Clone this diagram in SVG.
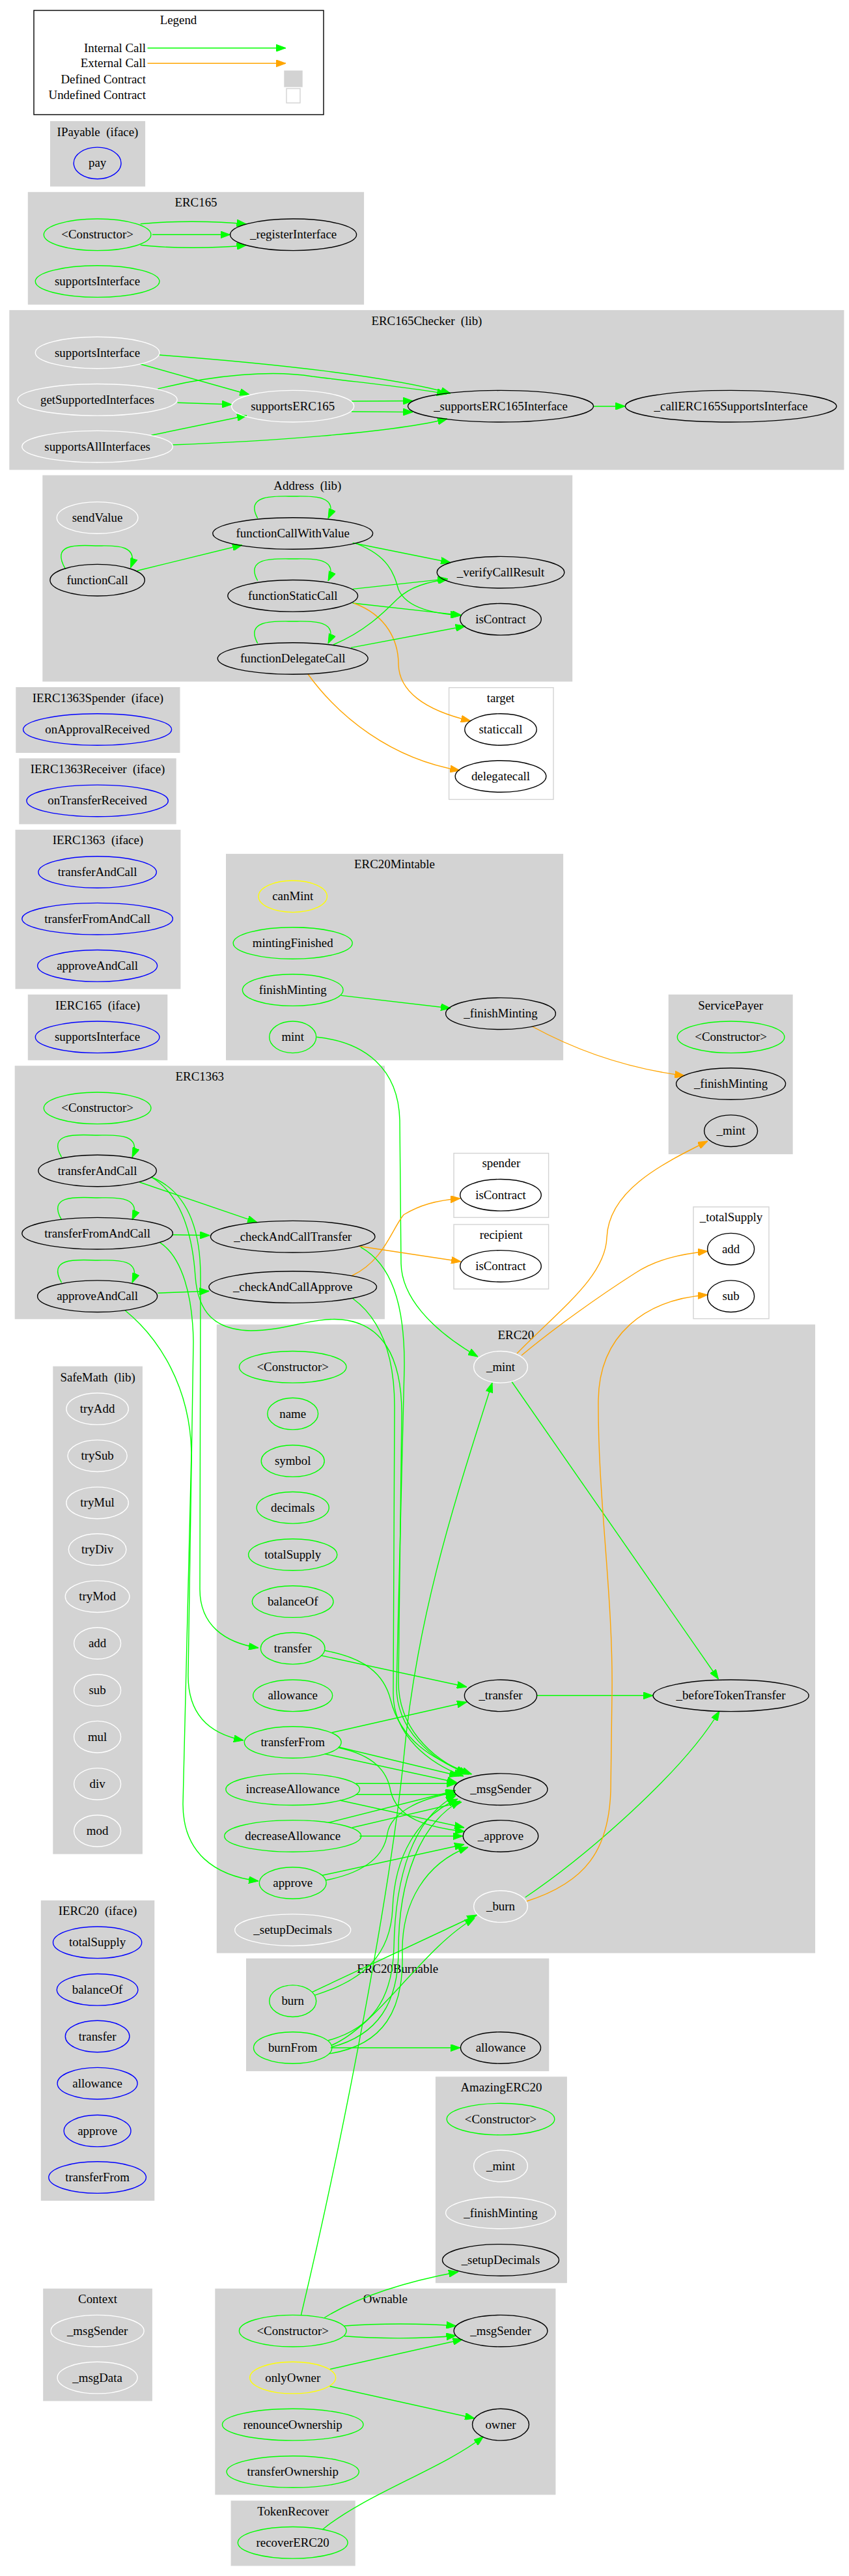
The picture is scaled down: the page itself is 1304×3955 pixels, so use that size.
<svg xmlns="http://www.w3.org/2000/svg" width="1304" height="3955" viewBox="0 0 1304 3955">
<style>
.c{fill:#d3d3d3;stroke:#d3d3d3;stroke-width:1.4}
.u{fill:#fff;stroke:#d3d3d3;stroke-width:1.4}
text{font-family:"Liberation Serif","Times New Roman",serif;font-size:18.9px;fill:#000;text-anchor:middle}
ellipse{fill:none;stroke-width:1.4}
.g{stroke:#00ff00}.k{stroke:#000}.w{stroke:#fff}.b{stroke:#0000ff}.y{stroke:#ffff00}
.eg{fill:none;stroke:#00ff00;stroke-width:1.4;marker-end:url(#ag)}
.eo{fill:none;stroke:#ffa500;stroke-width:1.4;marker-end:url(#ao)}
</style>
<defs>
<marker id="ag" markerUnits="userSpaceOnUse" markerWidth="15" markerHeight="11" viewBox="0 0 15 11" refX="15" refY="5.5" orient="auto"><path d="M0,0 L15,5.5 L0,11 z" fill="#00ff00" stroke="#00ff00"/></marker>
<marker id="ao" markerUnits="userSpaceOnUse" markerWidth="15" markerHeight="11" viewBox="0 0 15 11" refX="15" refY="5.5" orient="auto"><path d="M0,0 L15,5.5 L0,11 z" fill="#ffa500" stroke="#ffa500"/></marker>
</defs>
<rect width="1304" height="3955" fill="#fff"/>

<g id="legend">
<rect x="52" y="16" width="445" height="160" fill="#fff" stroke="#000" stroke-width="1.4"/>
<text x="274" y="37">Legend</text>
<text x="224" y="80" style="text-anchor:end">Internal Call</text>
<text x="224" y="103" style="text-anchor:end">External Call</text>
<text x="224" y="128" style="text-anchor:end">Defined Contract</text>
<text x="224" y="152" style="text-anchor:end">Undefined Contract</text>
<path class="eg" d="M226.5,73.7 L439,73.7"/>
<path class="eo" d="M226.5,97.3 L439,97.3"/>
<rect x="437" y="109" width="27" height="24" class="c"/>
<rect x="440" y="136" width="21" height="22" class="u"/>
</g>

<g id="clusters">
<rect class="c" x="77.7" y="186.6" width="144.7" height="99.1"/><text x="150" y="208.5">IPayable&#160; (iface)</text>
<rect class="c" x="43.5" y="295.5" width="514.9" height="171.5"/><text x="301" y="317">ERC165</text>
<rect class="c" x="15" y="476.8" width="1280.7" height="243.9"/><text x="655.4" y="498.5">ERC165Checker&#160; (lib)</text>
<rect class="c" x="66" y="730.3" width="812.5" height="315.5"/><text x="472.3" y="752">Address&#160; (lib)</text>
<rect class="u" x="689.6" y="1055.7" width="160.4" height="171.7"/><text x="769" y="1077.5">target</text>
<rect class="c" x="25" y="1055.7" width="250.8" height="99.5"/><text x="150.4" y="1077.5">IERC1363Spender&#160; (iface)</text>
<rect class="c" x="30" y="1165" width="240" height="99.7"/><text x="150" y="1186.5">IERC1363Receiver&#160; (iface)</text>
<rect class="c" x="24.2" y="1274.6" width="252.5" height="243.1"/><text x="150.4" y="1296">IERC1363&#160; (iface)</text>
<rect class="c" x="347.7" y="1311.6" width="516.7" height="315.5"/><text x="606" y="1333">ERC20Mintable</text>
<rect class="c" x="43.5" y="1527.6" width="213.1" height="99.5"/><text x="150" y="1549.5">IERC165&#160; (iface)</text>
<rect class="c" x="1027.4" y="1527.6" width="189.6" height="243.8"/><text x="1122.2" y="1549.5">ServicePayer</text>
<rect class="c" x="23.4" y="1637" width="566.8" height="387.6"/><text x="306.8" y="1658.5">ERC1363</text>
<rect class="u" x="697" y="1770.6" width="145.6" height="98.6"/><text x="769.8" y="1792">spender</text>
<rect class="u" x="697" y="1880" width="145.6" height="99"/><text x="769.8" y="1902">recipient</text>
<rect class="u" x="1065" y="1853" width="116" height="171.6"/><text x="1123" y="1875">_totalSupply</text>
<rect class="c" x="333.5" y="2034.2" width="917.9" height="963.8"/><text x="792.4" y="2056">ERC20</text>
<rect class="c" x="82" y="2098.4" width="136.2" height="747.5"/><text x="150.1" y="2120.5">SafeMath&#160; (lib)</text>
<rect class="c" x="63.5" y="2918.4" width="173.1" height="459.7"/><text x="150" y="2940">IERC20&#160; (iface)</text>
<rect class="c" x="378.7" y="3007.5" width="463.9" height="171.7"/><text x="610.6" y="3029">ERC20Burnable</text>
<rect class="c" x="669.6" y="3189.1" width="200.6" height="315.4"/><text x="769.9" y="3210.5">AmazingERC20</text>
<rect class="c" x="66.9" y="3514.4" width="166.3" height="171.3"/><text x="150" y="3536">Context</text>
<rect class="c" x="331" y="3514.4" width="521.7" height="315.2"/><text x="591.8" y="3536">Ownable</text>
<rect class="c" x="355.3" y="3840" width="189.7" height="98.8"/><text x="450.1" y="3861.5">TokenRecover</text>
</g>

<g id="connectors">
<!-- ERC165 -->
<path class="eg" d="M215.7,343.8 C260,339 330,339 378.5,344"/>
<path class="eg" d="M234,360.3 L353.6,360.3"/>
<path class="eg" d="M215.7,376.3 C260,381.5 330,381.5 378.5,376.5"/>
<!-- ERC165Checker -->
<path class="eg" d="M245,545 C420,558 600,578 692,604"/>
<path class="eg" d="M215.7,559 L383,606"/>
<path class="eg" d="M242.4,597 C330,575 420,568 480,578 C560,588 640,596 686,605"/>
<path class="eg" d="M272.5,618.3 L356,621"/>
<path class="eg" d="M540,616 L634,615.5"/>
<path class="eg" d="M540,632 L634,632.6"/>
<path class="eg" d="M232.4,668.3 L379,638"/>
<path class="eg" d="M264,683 C400,678 600,665 687,643"/>
<path class="eg" d="M911.5,623.7 L960.4,623.7"/>
<!-- Address -->
<path class="eg" d="M100.6,873.7 C75,830 128,838 150,838 C172,838 215,834 200.6,871.7"/>
<path class="eg" d="M395.7,795.7 C375,758 425,762 450,762 C475,762 522,758 504,796"/>
<path class="eg" d="M395.7,891.5 C375,854 425,858 450,858 C475,858 522,854 504,892"/>
<path class="eg" d="M395.7,987.7 C375,950 425,954 450,954 C475,954 522,950 504,988"/>
<path class="eg" d="M210.7,876.2 L372,836.8"/>
<path class="eg" d="M541.7,833.5 L692,863.8"/>
<path class="eg" d="M547.5,834.7 C600,855 606,885 612,905 C625,935 670,942 707,945"/>
<path class="eg" d="M541.7,904.4 L687,888.6"/>
<path class="eg" d="M541.7,926 L709,944.6"/>
<path class="eo" d="M543.3,926 C595,945 612,985 612,1020 C613,1060 650,1090 723,1107"/>
<path class="eg" d="M511.6,990 C560,970 590,940 610,920 C630,900 660,893 688,889"/>
<path class="eg" d="M539,994.4 L714.7,961.2"/>
<path class="eo" d="M473,1035 C520,1100 600,1165 706.3,1183"/>
<!-- ERC20Mintable / ServicePayer -->
<path class="eg" d="M524,1528.4 L692,1548"/>
<path class="eo" d="M817.5,1576 C880,1610 960,1640 1051.5,1651.6"/>
<path class="eg" d="M486.5,1592.3 C560,1600 612,1640 614,1720 L616,1940 C617,1990 660,2040 734,2083"/>
<!-- ERC1363 -->
<path class="eg" d="M94.6,1776.7 C70,1735 128,1743 150,1743 C172,1743 220,1738 203,1776.7"/>
<path class="eg" d="M94.6,1872.9 C70,1831 128,1839 150,1839 C172,1839 220,1834 203,1872.9"/>
<path class="eg" d="M94.6,1969.4 C70,1927 128,1935 150,1935 C172,1935 220,1930 203,1969.4"/>
<path class="eg" d="M214.3,1815 L395,1876.7"/>
<path class="eg" d="M264.3,1895.7 L322.3,1896.7"/>
<path class="eg" d="M242.4,1985.2 L321.3,1982.3"/>
<path class="eo" d="M551,1913.3 L708,1937"/>
<path class="eo" d="M540,1959 C590,1935 600,1890 620,1865 C645,1850 670,1843 707,1840"/>
<path class="eg" d="M232,1807 C290,1830 308,1890 308,1960 L307,2440 C307,2495 345,2522 397,2530"/>
<path class="eg" d="M232,1807 C280,1835 296,1900 300,1960 C304,2015 330,2042 385,2043 C440,2043 480,2022 525,2026 C585,2032 617,2080 617,2170 L612,2580 C611,2650 660,2700 720,2724"/>
<path class="eg" d="M245.5,1907.7 C280,1930 296,1990 297,2060 L289,2570 C288,2630 320,2662 374,2672"/>
<path class="eg" d="M192,2011.7 C245,2055 292,2130 294,2230 L281,2770 C281,2845 330,2880 397,2888"/>
<path class="eg" d="M554,1914.8 C600,1940 622,2000 621,2100 L609,2590 C609,2655 662,2702 716,2722"/>
<path class="eg" d="M541.7,1993.5 C585,2025 606,2080 606,2160 L604,2600 C604,2665 660,2708 712,2727"/>
<!-- ERC20 -->
<path class="eo" d="M794,2078 C860,2010 930,1960 932,1900 C935,1830 1010,1790 1087,1752"/>
<path class="eo" d="M801,2081 C850,2040 920,1990 975,1955 C1010,1932 1050,1925 1087,1921"/>
<path class="eg" d="M785.8,2121 L1103.5,2578"/>
<path class="eg" d="M493,2541.7 L716.9,2590"/>
<path class="eg" d="M498,2534 C560,2545 590,2570 600,2610 C615,2670 660,2700 724.5,2724"/>
<path class="eg" d="M510.2,2660 L716.9,2613.3"/>
<path class="eg" d="M519.8,2682.3 L705.4,2726.7"/>
<path class="eg" d="M498.8,2692.7 L701.6,2736.7"/>
<path class="eg" d="M519.8,2683.3 C575,2695 595,2720 600,2750 C610,2790 650,2805 714,2812"/>
<path class="eg" d="M546.6,2738.3 L701,2738.3"/>
<path class="eg" d="M546.6,2755.3 L701,2755.3"/>
<path class="eg" d="M521.7,2764 L713,2806"/>
<path class="eg" d="M504.5,2798.3 L700,2749"/>
<path class="eg" d="M540.8,2806 L709,2766.7"/>
<path class="eg" d="M552.3,2819 L711,2819"/>
<path class="eg" d="M495,2879.3 L713,2831.7"/>
<path class="eg" d="M500.7,2886.7 C560,2875 590,2850 595,2815 C600,2785 640,2762 699,2752"/>
<path class="eg" d="M824.6,2603.3 L1003,2603.3"/>
<path class="eg" d="M806.8,2913 C900,2850 1050,2720 1105,2627"/>
<path class="eo" d="M809,2919 C900,2890 935,2840 938,2750 L940,2600 C942,2450 918,2300 919,2150 C920,2050 990,1995 1087,1988"/>
<!-- ERC20Burnable -->
<path class="eg" d="M479.8,3058.3 L732.3,2940"/>
<path class="eg" d="M483.3,3063.3 C560,3040 600,3000 603,2930 C606,2850 640,2790 703,2762"/>
<path class="eg" d="M507.8,3144 L707,3144"/>
<path class="eg" d="M509.6,3140 C580,3110 650,2990 729,2945"/>
<path class="eg" d="M504.3,3132.7 C570,3115 603,3070 605,2990 C607,2880 635,2790 700,2757"/>
<path class="eg" d="M509,3143 C580,3125 612,3075 612,2995 C612,2885 645,2800 707,2765"/>
<path class="eg" d="M506,3153 C590,3140 620,3085 618,3000 C616,2920 655,2860 719,2836"/>
<!-- Ownable / TokenRecover -->
<path class="eg" d="M462.3,3555 C530,3270 600,2900 620,2700 C640,2480 700,2300 756,2123"/>
<path class="eg" d="M498.2,3558.5 C560,3520 640,3500 704,3488"/>
<path class="eg" d="M529,3571 C580,3567 650,3567 700.5,3571"/>
<path class="eg" d="M529,3586.8 C580,3591 650,3591 700.5,3586"/>
<path class="eg" d="M506.5,3637.6 L710.5,3591.7"/>
<path class="eg" d="M506.5,3663.7 L729,3713"/>
<path class="eg" d="M495,3884 C560,3830 680,3790 742.5,3741"/>
</g>

<g id="IPayable"><g id="IPayable.pay"><ellipse class="b" cx="149.6" cy="250.4" rx="36.4" ry="24.3"/><text x="149.6" y="256.4">pay</text></g></g>

<g id="ERC165">
<g id="ERC165.ctor"><ellipse class="g" cx="149.6" cy="360.3" rx="82.3" ry="24.3"/><text x="149.6" y="366.3">&lt;Constructor&gt;</text></g>
<g id="ERC165._registerInterface"><ellipse class="k" cx="450.6" cy="360.3" rx="97" ry="24.3"/><text x="450.6" y="366.3">_registerInterface</text></g>
<g id="ERC165.supportsInterface"><ellipse class="g" cx="149.6" cy="432.1" rx="95.3" ry="24.3"/><text x="149.6" y="438.1">supportsInterface</text></g>
</g>

<g id="ERC165Checker">
<g id="ERC165Checker.supportsInterface"><ellipse class="w" cx="149.6" cy="541.5" rx="95.3" ry="24.3"/><text x="149.6" y="547.5">supportsInterface</text></g>
<g id="ERC165Checker.getSupportedInterfaces"><ellipse class="w" cx="149.6" cy="613.8" rx="122.5" ry="24.3"/><text x="149.6" y="619.8">getSupportedInterfaces</text></g>
<g id="ERC165Checker.supportsAllInterfaces"><ellipse class="w" cx="149.6" cy="685.7" rx="115.8" ry="24.3"/><text x="149.6" y="691.7">supportsAllInterfaces</text></g>
<g id="ERC165Checker.supportsERC165"><ellipse class="w" cx="449.7" cy="623.7" rx="94" ry="24.3"/><text x="449.7" y="629.7">supportsERC165</text></g>
<g id="ERC165Checker._supportsERC165Interface"><ellipse class="k" cx="769" cy="623.7" rx="142.5" ry="24.3"/><text x="769" y="629.7">_supportsERC165Interface</text></g>
<g id="ERC165Checker._callERC165SupportsInterface"><ellipse class="k" cx="1122.6" cy="623.7" rx="162.2" ry="24.3"/><text x="1122.6" y="629.7">_callERC165SupportsInterface</text></g>
</g>

<g id="Address">
<g id="Address.sendValue"><ellipse class="w" cx="149.6" cy="794.9" rx="62.3" ry="24.3"/><text x="149.6" y="800.9">sendValue</text></g>
<g id="Address.functionCall"><ellipse class="k" cx="149.6" cy="890.7" rx="72.7" ry="24.3"/><text x="149.6" y="896.7">functionCall</text></g>
<g id="Address.functionCallWithValue"><ellipse class="k" cx="449.7" cy="819" rx="122.9" ry="24.3"/><text x="449.7" y="825">functionCallWithValue</text></g>
<g id="Address.functionStaticCall"><ellipse class="k" cx="449.7" cy="914.8" rx="99.9" ry="24.3"/><text x="449.7" y="920.8">functionStaticCall</text></g>
<g id="Address.functionDelegateCall"><ellipse class="k" cx="449.7" cy="1011" rx="115.4" ry="24.3"/><text x="449.7" y="1017">functionDelegateCall</text></g>
<g id="Address._verifyCallResult"><ellipse class="k" cx="769" cy="878.7" rx="97.8" ry="24.3"/><text x="769" y="884.7">_verifyCallResult</text></g>
<g id="Address.isContract"><ellipse class="k" cx="769" cy="950.8" rx="62.3" ry="24.3"/><text x="769" y="956.8">isContract</text></g>
</g>

<g id="target">
<g id="target.staticcall"><ellipse class="k" cx="769" cy="1120" rx="55.2" ry="24.3"/><text x="769" y="1126">staticcall</text></g>
<g id="target.delegatecall"><ellipse class="k" cx="769" cy="1192" rx="69.8" ry="24.3"/><text x="769" y="1198">delegatecall</text></g>
</g>

<g id="IERC1363Spender"><g id="IERC1363Spender.onApprovalReceived"><ellipse class="b" cx="149.6" cy="1120" rx="114" ry="24.3"/><text x="149.6" y="1126">onApprovalReceived</text></g></g>
<g id="IERC1363Receiver"><g id="IERC1363Receiver.onTransferReceived"><ellipse class="b" cx="149.6" cy="1229.4" rx="108.7" ry="24.3"/><text x="149.6" y="1235.4">onTransferReceived</text></g></g>

<g id="IERC1363">
<g id="IERC1363.transferAndCall"><ellipse class="b" cx="149.6" cy="1339" rx="90.7" ry="24.3"/><text x="149.6" y="1345">transferAndCall</text></g>
<g id="IERC1363.transferFromAndCall"><ellipse class="b" cx="149.6" cy="1410.7" rx="115.8" ry="24.3"/><text x="149.6" y="1416.7">transferFromAndCall</text></g>
<g id="IERC1363.approveAndCall"><ellipse class="b" cx="149.6" cy="1482.8" rx="92" ry="24.3"/><text x="149.6" y="1488.8">approveAndCall</text></g>
</g>

<g id="ERC20Mintable">
<g id="ERC20Mintable.canMint"><ellipse class="y" cx="449.7" cy="1376.3" rx="52.7" ry="24.3"/><text x="449.7" y="1382.3">canMint</text></g>
<g id="ERC20Mintable.mintingFinished"><ellipse class="g" cx="449.7" cy="1448" rx="91.5" ry="24.3"/><text x="449.7" y="1454">mintingFinished</text></g>
<g id="ERC20Mintable.finishMinting"><ellipse class="g" cx="449.7" cy="1520.1" rx="77.3" ry="24.3"/><text x="449.7" y="1526.1">finishMinting</text></g>
<g id="ERC20Mintable.mint"><ellipse class="g" cx="449.7" cy="1592.3" rx="36" ry="24.3"/><text x="449.7" y="1598.3">mint</text></g>
<g id="ERC20Mintable._finishMinting"><ellipse class="k" cx="769" cy="1556.2" rx="84.4" ry="24.3"/><text x="769" y="1562.2">_finishMinting</text></g>
</g>

<g id="IERC165"><g id="IERC165.supportsInterface"><ellipse class="b" cx="149.6" cy="1592.3" rx="95.3" ry="24.3"/><text x="149.6" y="1598.3">supportsInterface</text></g></g>

<g id="ServicePayer">
<g id="ServicePayer.ctor"><ellipse class="g" cx="1122.6" cy="1592.3" rx="82.3" ry="24.3"/><text x="1122.6" y="1598.3">&lt;Constructor&gt;</text></g>
<g id="ServicePayer._finishMinting"><ellipse class="k" cx="1122.6" cy="1664" rx="84" ry="24.3"/><text x="1122.6" y="1670">_finishMinting</text></g>
<g id="ServicePayer._mint"><ellipse class="k" cx="1122.6" cy="1736.2" rx="41" ry="24.3"/><text x="1122.6" y="1742.2">_mint</text></g>
</g>

<g id="ERC1363">
<g id="ERC1363.ctor"><ellipse class="g" cx="149.6" cy="1701.3" rx="82.3" ry="24.3"/><text x="149.6" y="1707.3">&lt;Constructor&gt;</text></g>
<g id="ERC1363.transferAndCall"><ellipse class="k" cx="149.6" cy="1797.5" rx="90.7" ry="24.3"/><text x="149.6" y="1803.5">transferAndCall</text></g>
<g id="ERC1363.transferFromAndCall"><ellipse class="k" cx="149.6" cy="1893.7" rx="115.8" ry="24.3"/><text x="149.6" y="1899.7">transferFromAndCall</text></g>
<g id="ERC1363.approveAndCall"><ellipse class="k" cx="149.6" cy="1990.2" rx="92" ry="24.3"/><text x="149.6" y="1996.2">approveAndCall</text></g>
<g id="ERC1363._checkAndCallTransfer"><ellipse class="k" cx="449.7" cy="1898.7" rx="126.3" ry="24.3"/><text x="449.7" y="1904.7">_checkAndCallTransfer</text></g>
<g id="ERC1363._checkAndCallApprove"><ellipse class="k" cx="449.7" cy="1976.1" rx="128.8" ry="24.3"/><text x="449.7" y="1982.1">_checkAndCallApprove</text></g>
</g>

<g id="spender"><g id="spender.isContract"><ellipse class="k" cx="769" cy="1834.8" rx="62.3" ry="24.3"/><text x="769" y="1840.8">isContract</text></g></g>
<g id="recipient"><g id="recipient.isContract"><ellipse class="k" cx="769" cy="1943.9" rx="62.3" ry="24.3"/><text x="769" y="1949.9">isContract</text></g></g>
<g id="_totalSupply">
<g id="_totalSupply.add"><ellipse class="k" cx="1122.6" cy="1917.7" rx="36" ry="24.3"/><text x="1122.6" y="1923.7">add</text></g>
<g id="_totalSupply.sub"><ellipse class="k" cx="1122.6" cy="1990.2" rx="36" ry="24.3"/><text x="1122.6" y="1996.2">sub</text></g>
</g>

<g id="ERC20">
<g id="ERC20.ctor"><ellipse class="g" cx="449.7" cy="2098.8" rx="82.3" ry="24.3"/><text x="449.7" y="2104.8">&lt;Constructor&gt;</text></g>
<g id="ERC20.name"><ellipse class="g" cx="449.7" cy="2170.6" rx="38.9" ry="24.3"/><text x="449.7" y="2176.6">name</text></g>
<g id="ERC20.symbol"><ellipse class="g" cx="449.7" cy="2243.1" rx="48.5" ry="24.3"/><text x="449.7" y="2249.1">symbol</text></g>
<g id="ERC20.decimals"><ellipse class="g" cx="449.7" cy="2314.8" rx="55.6" ry="24.3"/><text x="449.7" y="2320.8">decimals</text></g>
<g id="ERC20.totalSupply"><ellipse class="g" cx="449.7" cy="2387" rx="68.1" ry="24.3"/><text x="449.7" y="2393">totalSupply</text></g>
<g id="ERC20.balanceOf"><ellipse class="g" cx="449.7" cy="2459.1" rx="62.3" ry="24.3"/><text x="449.7" y="2465.1">balanceOf</text></g>
<g id="ERC20.transfer"><ellipse class="g" cx="449.7" cy="2530.8" rx="49.3" ry="24.3"/><text x="449.7" y="2536.8">transfer</text></g>
<g id="ERC20.allowance"><ellipse class="g" cx="449.7" cy="2603.3" rx="61" ry="24.3"/><text x="449.7" y="2609.3">allowance</text></g>
<g id="ERC20.transferFrom"><ellipse class="g" cx="449.7" cy="2675" rx="74.4" ry="24.3"/><text x="449.7" y="2681">transferFrom</text></g>
<g id="ERC20.increaseAllowance"><ellipse class="g" cx="449.7" cy="2747.2" rx="102.8" ry="24.3"/><text x="449.7" y="2753.2">increaseAllowance</text></g>
<g id="ERC20.decreaseAllowance"><ellipse class="g" cx="449.7" cy="2818.9" rx="105" ry="24.3"/><text x="449.7" y="2824.9">decreaseAllowance</text></g>
<g id="ERC20.approve"><ellipse class="g" cx="449.7" cy="2891" rx="51.4" ry="24.3"/><text x="449.7" y="2897">approve</text></g>
<g id="ERC20._setupDecimals"><ellipse class="w" cx="449.7" cy="2963.2" rx="89" ry="24.3"/><text x="449.7" y="2969.2">_setupDecimals</text></g>
<g id="ERC20._mint"><ellipse class="w" cx="769" cy="2098.8" rx="41.4" ry="24.3"/><text x="769" y="2104.8">_mint</text></g>
<g id="ERC20._transfer"><ellipse class="k" cx="769" cy="2603.3" rx="55.6" ry="24.3"/><text x="769" y="2609.3">_transfer</text></g>
<g id="ERC20._beforeTokenTransfer"><ellipse class="k" cx="1122.6" cy="2603.3" rx="119.6" ry="24.3"/><text x="1122.6" y="2609.3">_beforeTokenTransfer</text></g>
<g id="ERC20._msgSender"><ellipse class="k" cx="769" cy="2747.2" rx="71.9" ry="24.3"/><text x="769" y="2753.2">_msgSender</text></g>
<g id="ERC20._approve"><ellipse class="k" cx="769" cy="2818.9" rx="57.7" ry="24.3"/><text x="769" y="2824.9">_approve</text></g>
<g id="ERC20._burn"><ellipse class="w" cx="769" cy="2927.1" rx="41.4" ry="24.3"/><text x="769" y="2933.1">_burn</text></g>
</g>

<g id="SafeMath">
<g id="SafeMath.tryAdd"><ellipse class="w" cx="149.6" cy="2163.1" rx="47.7" ry="24.3"/><text x="149.6" y="2169.1">tryAdd</text></g>
<g id="SafeMath.trySub"><ellipse class="w" cx="149.6" cy="2235.2" rx="45.6" ry="24.3"/><text x="149.6" y="2241.2">trySub</text></g>
<g id="SafeMath.tryMul"><ellipse class="w" cx="149.6" cy="2307.4" rx="47.7" ry="24.3"/><text x="149.6" y="2313.4">tryMul</text></g>
<g id="SafeMath.tryDiv"><ellipse class="w" cx="149.6" cy="2379.1" rx="44.3" ry="24.3"/><text x="149.6" y="2385.1">tryDiv</text></g>
<g id="SafeMath.tryMod"><ellipse class="w" cx="149.6" cy="2451.2" rx="49.3" ry="24.3"/><text x="149.6" y="2457.2">tryMod</text></g>
<g id="SafeMath.add"><ellipse class="w" cx="149.6" cy="2523" rx="36" ry="24.3"/><text x="149.6" y="2529">add</text></g>
<g id="SafeMath.sub"><ellipse class="w" cx="149.6" cy="2595.1" rx="36" ry="24.3"/><text x="149.6" y="2601.1">sub</text></g>
<g id="SafeMath.mul"><ellipse class="w" cx="149.6" cy="2666.7" rx="36" ry="24.3"/><text x="149.6" y="2672.7">mul</text></g>
<g id="SafeMath.div"><ellipse class="w" cx="149.6" cy="2738.9" rx="36" ry="24.3"/><text x="149.6" y="2744.9">div</text></g>
<g id="SafeMath.mod"><ellipse class="w" cx="149.6" cy="2811" rx="36" ry="24.3"/><text x="149.6" y="2817">mod</text></g>
</g>

<g id="IERC20">
<g id="IERC20.totalSupply"><ellipse class="b" cx="149.6" cy="2982.3" rx="68.1" ry="24.3"/><text x="149.6" y="2988.3">totalSupply</text></g>
<g id="IERC20.balanceOf"><ellipse class="b" cx="149.6" cy="3054.8" rx="62.3" ry="24.3"/><text x="149.6" y="3060.8">balanceOf</text></g>
<g id="IERC20.transfer"><ellipse class="b" cx="149.6" cy="3126.5" rx="49.3" ry="24.3"/><text x="149.6" y="3132.5">transfer</text></g>
<g id="IERC20.allowance"><ellipse class="b" cx="149.6" cy="3198.7" rx="61.5" ry="24.3"/><text x="149.6" y="3204.7">allowance</text></g>
<g id="IERC20.approve"><ellipse class="b" cx="149.6" cy="3271.6" rx="51.4" ry="24.3"/><text x="149.6" y="3277.6">approve</text></g>
<g id="IERC20.transferFrom"><ellipse class="b" cx="149.6" cy="3343.1" rx="74.8" ry="24.3"/><text x="149.6" y="3349.1">transferFrom</text></g>
</g>

<g id="ERC20Burnable">
<g id="ERC20Burnable.burn"><ellipse class="g" cx="449.7" cy="3072.2" rx="36" ry="24.3"/><text x="449.7" y="3078.2">burn</text></g>
<g id="ERC20Burnable.burnFrom"><ellipse class="g" cx="449.7" cy="3144" rx="60.2" ry="24.3"/><text x="449.7" y="3150">burnFrom</text></g>
<g id="ERC20Burnable.allowance"><ellipse class="k" cx="769" cy="3144" rx="61.5" ry="24.3"/><text x="769" y="3150">allowance</text></g>
</g>

<g id="AmazingERC20">
<g id="AmazingERC20.ctor"><ellipse class="g" cx="769" cy="3253.6" rx="82.8" ry="24.3"/><text x="769" y="3259.6">&lt;Constructor&gt;</text></g>
<g id="AmazingERC20._mint"><ellipse class="w" cx="769" cy="3325.5" rx="41.4" ry="24.3"/><text x="769" y="3331.5">_mint</text></g>
<g id="AmazingERC20._finishMinting"><ellipse class="w" cx="769" cy="3397.5" rx="84.4" ry="24.3"/><text x="769" y="3403.5">_finishMinting</text></g>
<g id="AmazingERC20._setupDecimals"><ellipse class="k" cx="769" cy="3469.9" rx="89.5" ry="24.3"/><text x="769" y="3475.9">_setupDecimals</text></g>
</g>

<g id="Context">
<g id="Context._msgSender"><ellipse class="w" cx="149.6" cy="3578.7" rx="71.5" ry="24.3"/><text x="149.6" y="3584.7">_msgSender</text></g>
<g id="Context._msgData"><ellipse class="w" cx="149.6" cy="3650.6" rx="61.5" ry="24.3"/><text x="149.6" y="3656.6">_msgData</text></g>
</g>

<g id="Ownable">
<g id="Ownable.ctor"><ellipse class="g" cx="449.7" cy="3578.7" rx="82.3" ry="24.3"/><text x="449.7" y="3584.7">&lt;Constructor&gt;</text></g>
<g id="Ownable._msgSender"><ellipse class="k" cx="769" cy="3578.7" rx="71.9" ry="24.3"/><text x="769" y="3584.7">_msgSender</text></g>
<g id="Ownable.onlyOwner"><ellipse class="y" cx="449.7" cy="3650.6" rx="66" ry="24.3"/><text x="449.7" y="3656.6">onlyOwner</text></g>
<g id="Ownable.owner"><ellipse class="k" cx="769" cy="3722.6" rx="43.5" ry="24.3"/><text x="769" y="3728.6">owner</text></g>
<g id="Ownable.renounceOwnership"><ellipse class="g" cx="449.7" cy="3722.6" rx="108.3" ry="24.3"/><text x="449.7" y="3728.6">renounceOwnership</text></g>
<g id="Ownable.transferOwnership"><ellipse class="g" cx="449.7" cy="3795" rx="101.6" ry="24.3"/><text x="449.7" y="3801">transferOwnership</text></g>
</g>

<g id="TokenRecover"><g id="TokenRecover.recoverERC20"><ellipse class="g" cx="449.7" cy="3903.8" rx="84.4" ry="24.3"/><text x="449.7" y="3909.8">recoverERC20</text></g></g>
</svg>
